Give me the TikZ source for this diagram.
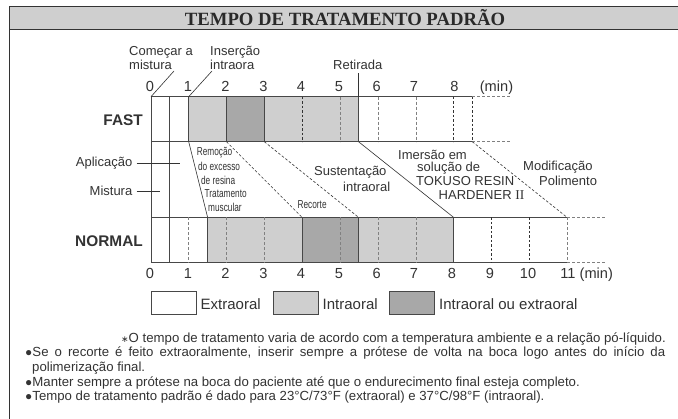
\documentclass[tikz,border=0pt]{standalone}
\usepackage{fontspec}
\setmainfont{Liberation Sans}
\newfontfamily\serifb{Liberation Serif}
\newfontfamily\dejav{DejaVu Sans}
\definecolor{ink}{gray}{0.2}
\definecolor{lg}{gray}{0.81}
\definecolor{dg}{gray}{0.66}
\begin{document}
\begin{tikzpicture}[x=1pt,y=-1pt,
  lab/.style={inner sep=0pt,anchor=west,font=\fontsize{13}{14}\selectfont,text=ink,align=left},
  num/.style={inner sep=0pt,anchor=base,font=\fontsize{14.6}{15}\selectfont,text=ink},
  nar/.style={inner sep=0pt,anchor=west,xscale=.72,font=\fontsize{11.5}{12}\selectfont,text=ink},
  bold/.style={inner sep=0pt,anchor=east,font=\fontsize{15.4}{16}\selectfont\bfseries,text=ink},
  note/.style={inner sep=0pt,anchor=west,font=\fontsize{13.2}{14}\selectfont,text=ink},
  leg/.style={inner sep=0pt,anchor=west,font=\fontsize{15}{16}\selectfont,text=ink},
  bar/.style={draw=ink!90,line width=.8pt},
  dl/.style={draw=ink,line width=.6pt,dash pattern=on 2.6pt off 1.9pt},
  gl/.style={draw=gray,line width=.8pt,dash pattern=on 3pt off 2pt},
  sl/.style={draw=ink,line width=.6pt}]
\newcommand{\blt}{{\fontsize{12}{12}\selectfont●}}
\useasboundingbox (0,0) rectangle (678,419);
\fill[white] (0,0) rectangle (678,419);
% title band
\fill[lg] (9,6.5) rectangle (678,29);
\draw[ink,line width=.9pt] (9,419) -- (9,6.5) -- (678,6.5);
\draw[ink,line width=.9pt] (9,29) -- (678,29);
\node[inner sep=0pt,font=\serifb\fontsize{18.7}{19}\selectfont\bfseries,text=ink!80!black] (title) at (345,18) {TEMPO DE TRATAMENTO PADRÃO};
% FAST fills
\fill[lg] (188.7,96.7) rectangle (264.3,141.7);
\fill[dg] (226.5,96.7) rectangle (264.3,141.7);
\fill[lg] (264.3,96.7) rectangle (358.5,141.7);
% NORMAL fills
\fill[lg] (207.6,217.3) rectangle (302,262.7);
\fill[dg] (302,217.3) rectangle (358.5,262.7);
\fill[lg] (358.5,217.3) rectangle (453.5,262.7);
% FAST lines
\draw[bar] (472.3,96.7) -- (151,96.7) -- (151,217.3);
\draw[bar] (151,141.7) -- (472.3,141.7);
\foreach \x in {169.8,188.7,226.5,264.3}{\draw[bar] (\x,96.7) -- (\x,141.7);}
\draw[bar] (169.8,141.7) -- (169.8,217.3);
\draw[bar] (358.5,96.7) -- (358.5,141.7);
\draw[dl] (302,96.7) -- (302,141.7);
\draw[gl] (340,96.7) -- (340,141.7);
\foreach \x in {378,416}{\draw[gl] (\x,96.7) -- (\x,141.7);}
\draw[dl] (453.5,96.7) -- (453.5,141.7);
\draw[dl] (472.3,96.7) -- (472.3,141.7);
\draw[gl] (472.3,96.7) -- (511,96.7);
\draw[gl] (472.3,141.7) -- (511,141.7);
% NORMAL lines
\draw[bar] (151,217.3) rectangle (453.5,262.7);
\draw[bar] (453.5,217.3) -- (567,217.3);
\draw[bar] (453.5,262.7) -- (567,262.7);
\foreach \x in {169.8,207.6,302,358.5,453.5}{\draw[bar] (\x,217.3) -- (\x,262.7);}
\foreach \x in {188.7,226.5,264.3,340,378,416,567}{\draw[gl] (\x,217.3) -- (\x,262.7);}
\foreach \x in {491.5,529.5}{\draw[dl] (\x,217.3) -- (\x,262.7);}
\draw[gl] (567,217.3) -- (606,217.3);
\draw[gl] (567,262.7) -- (606,262.7);
% connectors
\draw[sl] (188.7,141.7) -- (207.6,217.3);
\draw[sl] (358.5,141.7) -- (453.5,217.3);
\draw[dl] (226.5,141.7) -- (302,217.3);
\draw[dl] (264.3,141.7) -- (358.5,217.3);
\draw[dl] (472.3,141.7) -- (567,217.3);
% time labels
\coordinate (c0) at (151,96.7); \coordinate (c1) at (188.7,96.7);
\coordinate (c0e) at (174,71); \coordinate (c1e) at (212,71);
\draw[sl] (c0) -- (c0e);
\draw[sl] (c1) -- (c1e);
\coordinate (r0) at (358.5,96.7); \coordinate (r1) at (358.5,73);
\draw[sl] (r0) -- (r1);
\foreach \t/\x in {0/150,1/188,2/225.5,3/263.5,4/301,5/339,6/376.7,7/414,8/454.5}{\node[num] (a\t) at (\x,92) {\t};}
\node[num] (amin) at (496.5,92) {(min)};
\foreach \t/\x in {0/150,1/188,2/225.5,3/263.5,4/301,5/339,6/376.7,7/414,8/452,9/490}{\node[num] (b\t) at (\x,279) {\t};}
\node[num] (b10) at (528,279) {10};
\node[num] (b11) at (568,279) {11};
\node[num,anchor=base west] (bmin) at (579.5,279) {(min)};
\node[lab] (com) at (129,58) {Começar a\\mistura};
\node[lab] (ins) at (210,58) {Inserção\\intraora};
\node[lab] (ret) at (333,65) {Retirada};
\node[bold] (fast) at (143,120) {FAST};
\node[bold] (normal) at (143,241) {NORMAL};
\node[lab,anchor=east] (apl) at (132.5,163) {Aplicação};
\node[lab,anchor=east] (mis) at (132.5,190.5) {Mistura};
\coordinate (aple) at (180,163); \coordinate (apls) at (136.5,163);
\coordinate (mise) at (159.5,191); \coordinate (miss) at (136.5,191);
\draw[sl] (apls) -- (aple);
\draw[sl] (miss) -- (mise);
% narrow labels
\node[nar] (rem) at (196.7,153) {Remoção};
\node[nar] (rem2) at (198,166) {do excesso};
\node[nar] (rem3) at (201,180) {de resina};
\node[nar] (tm1) at (204.5,194) {Tratamento};
\node[nar] (tm2) at (208,207) {muscular};
\node[nar] (rec) at (297.5,205) {Recorte};
\node[lab] (sus1) at (314,172.5) {Sustentação};
\node[lab] (sus2) at (343,187) {intraoral};
\node[lab] (im1) at (398,155) {Imersão em};
\node[lab] (im2) at (417,168) {solução de};
\node[lab] (im3) at (416,181) {TOKUSO RESIN};
\node[lab] (im4) at (438.5,195) {HARDENER {\serifb\fontsize{13.5}{14}\selectfont II}};
\node[lab] (mod1) at (523,167.5) {Modificação};
\node[lab] (mod2) at (539,181) {Polimento};
% legend
\draw[bar,fill=white] (151,291.5) rectangle (196,314.5);
\draw[bar,fill=lg] (273,291.5) rectangle (318,314.5);
\draw[bar,fill=dg] (389.5,291.5) rectangle (434.5,314.5);
\node[leg] (l1) at (200.5,304) {Extraoral};
\node[leg] (l2) at (322.5,304) {Intraoral};
\node[leg] (l3) at (439,304) {Intraoral ou extraoral};
% notes
\node[note] (n0) at (121,339) {{\dejav\fontsize{9}{9}\selectfont ∗}O tempo de tratamento varia de acordo com a temperatura ambiente e a relação pó-líquido.};
\node[note] (n1) at (25,353.5) {\spaceskip=.28em plus 1fil\relax\hbox to 640pt{\blt Se o recorte é feito extraoralmente, inserir sempre a prótese de volta na boca logo antes do início da}};
\node[note] (n1b) at (32,368.5) {polimerização final.};
\node[note] (n2) at (25,383) {\blt Manter sempre a prótese na boca do paciente até que o endurecimento final esteja completo.};
\node[note] (n3) at (25,397) {\blt Tempo de tratamento padrão é dado para 23°C/73°F (extraoral) e 37°C/98°F (intraoral).};
\end{tikzpicture}
\end{document}
